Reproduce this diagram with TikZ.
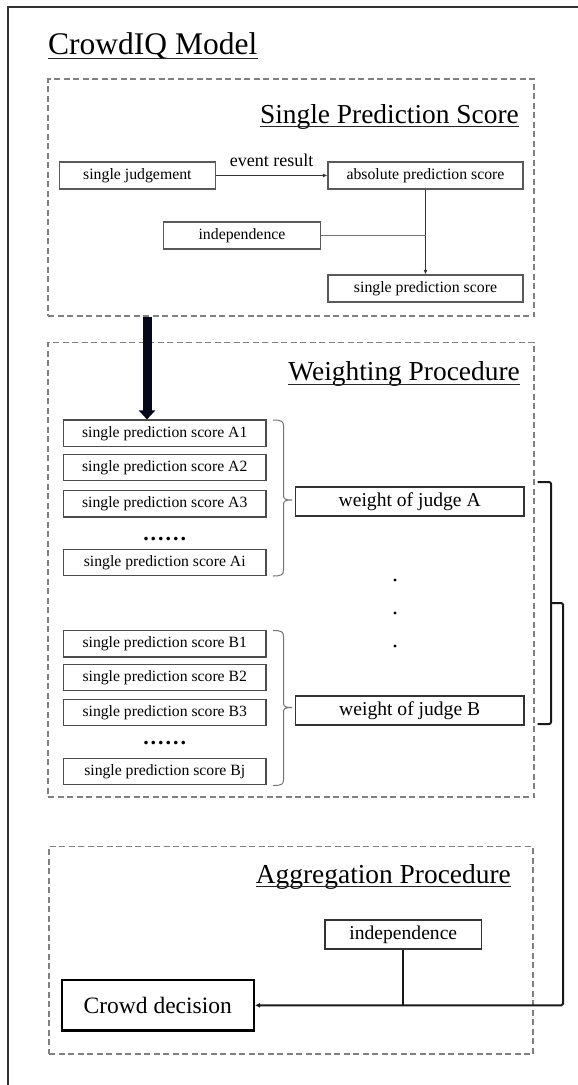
\documentclass[tikz,border=0pt]{standalone}
\usepackage{fontspec}
\setmainfont{Liberation Serif}
\usetikzlibrary{arrows.meta,calc}
\newcommand\fsz[1]{\fontsize{#1}{#1}\selectfont}
\begin{document}
\begin{tikzpicture}[x=1pt,y=-1pt,
  dbox/.style={draw=black!50, line width=1.2pt, dash pattern=on 6pt off 3.5pt, inner sep=0},
  sbox/.style={draw=black!65, line width=1.2pt, inner sep=0, font=\fsz{15.8}},
  pbox/.style={draw=black!70, line width=1.2pt, inner sep=0, minimum width=202.5pt, minimum height=26.5pt, font=\fsz{15.7}},
  wbox/.style={draw=black!80, line width=1.6pt, inner sep=0, minimum width=228.6pt, minimum height=29pt, font=\fsz{19.6}},
  ttl/.style={inner sep=0, font=\fsz{27.4}},
  uline/.style={line width=1.1pt, black!85},
  conn/.style={draw=black!80, line width=1.1pt},
  tip/.style={-{Latex[length=4.5pt,width=4pt]}},
  brc/.style={draw=black!55, line width=1pt},
  bigbr/.style={draw=black!90, line width=2pt},
  dotc/.style={fill=black}
]
\useasboundingbox (0,0) rectangle (578,1085);

% outer frame (partially visible)
\draw[line width=2.4pt, black!80] (8,1090) -- (8,7) -- (585,7);

% title
\node[inner sep=0, font=\fsz{31.5}, anchor=base west] (title) at (48,54) {CrowdIQ Model};
\draw[uline] ([yshift=-4.5pt]title.base west) -- ([yshift=-4.5pt]title.base east);

% ---------- Single Prediction Score ----------
\node[dbox, minimum width=486pt, minimum height=237pt] (D1) at (291,197.5) {};
\node[ttl, anchor=base east] (t1) at (519,123) {Single Prediction Score};
\draw[uline] ([yshift=-3.8pt]t1.base west) -- ([yshift=-3.8pt]t1.base east);

\node[sbox, minimum width=156pt, minimum height=27pt] (sj) at (137.4,175.5) {single judgement};
\node[sbox, minimum width=195pt, minimum height=27pt] (aps) at (425.5,175.5) {absolute prediction score};
\node[sbox, minimum width=156.5pt, minimum height=27pt] (ind1) at (242,235.5) {independence};
\node[sbox, minimum width=195pt, minimum height=27pt] (sps) at (425.5,288.5) {single prediction score};

\draw[conn, tip] (sj.east) -- node[above=8.5pt, inner sep=0, font=\fsz{18}] (er) {event result} (aps.west);
\draw[conn, tip] (aps.south) -- (sps.north);
\draw[draw=black!55, line width=0.8pt] (ind1.east) -- (ind1.east -| aps.south);

% ---------- Weighting Procedure ----------
\node[dbox, minimum width=486pt, minimum height=454.5pt] (D2) at (291,569.75) {};
\node[ttl, anchor=base east] (t2) at (520,380.5) {Weighting Procedure};
\draw[uline] ([yshift=-3.8pt]t2.base west) -- ([yshift=-3.8pt]t2.base east);

\node[pbox] (A1) at (164.75,433.3) {single prediction score A1};
\node[pbox] (A2) at (164.75,467.5) {single prediction score A2};
\node[pbox] (A3) at (164.75,503.7) {single prediction score A3};
\node[inner sep=0, anchor=base, font=\fsz{22}\bfseries] (Adots) at (164.75,540.5) {.\kern2pt.\kern2pt.\kern2pt.\kern2pt.\kern2pt.};
\node[pbox] (Ai) at (164.75,562.5) {single prediction score Ai};

\node[pbox] (B1) at (164.75,643.8) {single prediction score B1};
\node[pbox] (B2) at (164.75,677.5) {single prediction score B2};
\node[pbox] (B3) at (164.75,712.5) {single prediction score B3};
\node[inner sep=0, anchor=base, font=\fsz{22}\bfseries] (Bdots) at (164.75,744.2) {.\kern2pt.\kern2pt.\kern2pt.\kern2pt.\kern2pt.};
\node[pbox] (Bj) at (164.75,771.5) {single prediction score Bj};

\node[wbox] (wA) at (409.7,501.5) {weight of judge A};
\node[wbox] (wB) at (409.7,710.3) {weight of judge B};

% thick arrow into A1
\coordinate (ax) at (147,0);
\draw[line width=9pt, draw={rgb,255:red,5;green,8;blue,25},
      -{Triangle[length=9pt,width=16pt]}] (D1.south -| ax) -- (A1.north -| ax);

% braces
\draw[brc] (273,420) .. controls (281,420) and (283.5,421) .. (283.5,426)
  -- (283.5,495) .. controls (283.5,499) and (285,500) .. (292,500)
  .. controls (285,500) and (283.5,501) .. (283.5,505)
  -- (283.5,570) .. controls (283.5,575) and (281,576) .. (273,576);
\draw[brc] (273,630.5) .. controls (281,630.5) and (283.5,631.5) .. (283.5,636.5)
  -- (283.5,702.5) .. controls (283.5,706.5) and (285,707.5) .. (292,707.5)
  .. controls (285,707.5) and (283.5,708.5) .. (283.5,712.5)
  -- (283.5,780) .. controls (283.5,784.5) and (281,785.5) .. (273,785.5);

% vertical dots
\fill[dotc] (395,580) circle (1.6);
\fill[dotc] (395,613) circle (1.6);
\fill[dotc] (395,646) circle (1.6);

% big bracket
\draw[bigbr, rounded corners=2pt] (537.7,482) -- (551,482) -- (551,724) -- (537.7,724);

% ---------- Aggregation Procedure ----------
\node[dbox, minimum width=484pt, minimum height=207.3pt] (D3) at (291,950.35) {};
\node[ttl, anchor=base east] (t3) at (511,883) {Aggregation Procedure};
\draw[uline] ([yshift=-3.8pt]t3.base west) -- ([yshift=-3.8pt]t3.base east);

\node[draw=black!80, line width=1.5pt, inner sep=0, minimum width=156.6pt, minimum height=29pt, font=\fsz{19.6}] (ind2) at (403.3,934.5) {independence};
\node[draw=black, line width=2.5pt, inner sep=0, minimum width=192pt, minimum height=50.7pt, font=\fsz{23.5}] (cd) at (157.75,1005.3) {Crowd decision};

\coordinate (bk) at (551,603);
\coordinate (turn) at (563,603);
\draw[bigbr, rounded corners=1.5pt, -{Latex[length=5pt,width=5pt]}] (bk) -- (turn) -- (turn |- cd.east) -- (cd.east);
\draw[bigbr] (ind2.south) -- (ind2.south |- cd.east);
\end{tikzpicture}
\end{document}
